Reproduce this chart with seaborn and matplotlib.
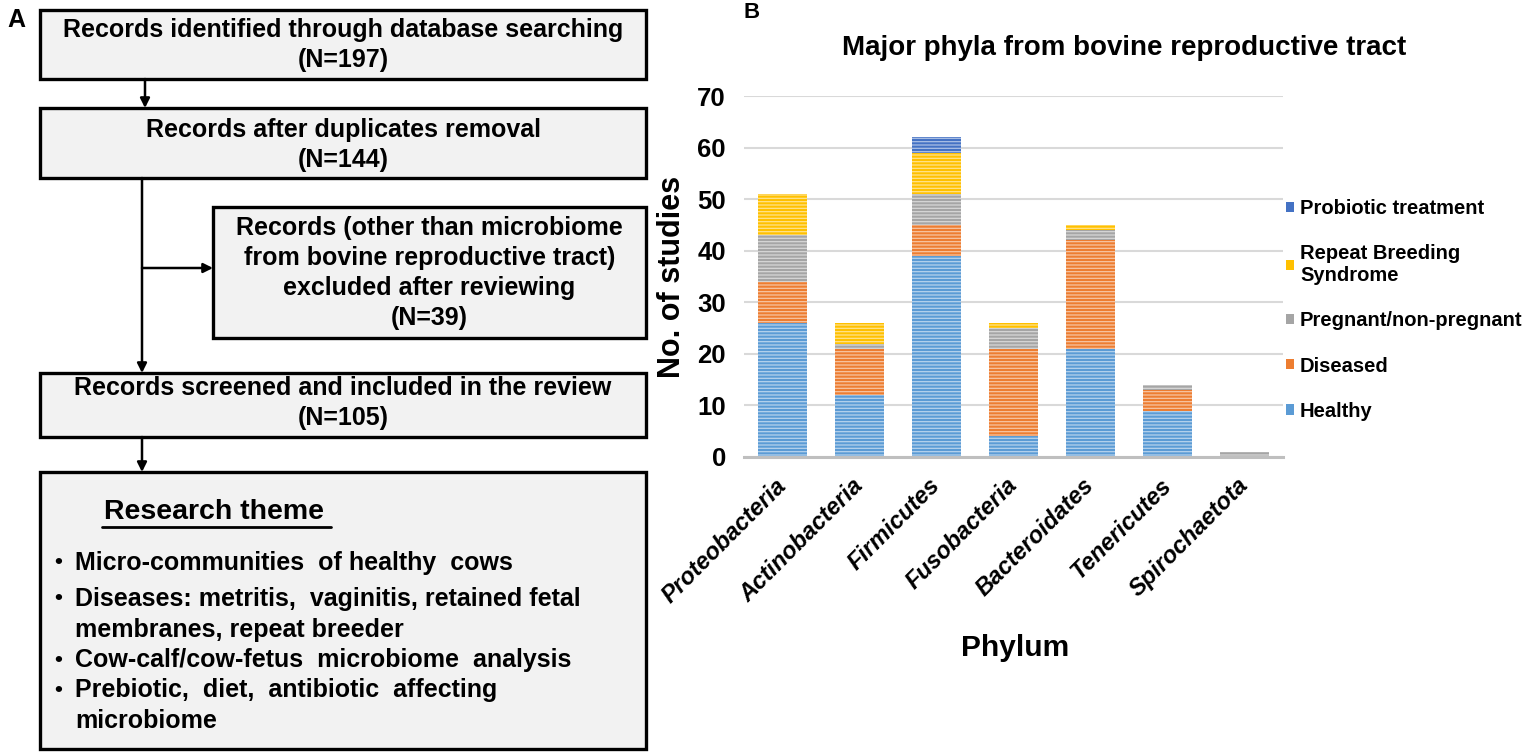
import matplotlib
matplotlib.use("Agg")
import matplotlib.pyplot as plt
from matplotlib.patches import Rectangle, Patch
import numpy as np
import pandas as pd
import seaborn as sns

# ---------------- data ----------------
phyla = ["Proteobacteria", "Actinobacteria", "Firmicutes", "Fusobacteria",
         "Bacteroidates", "Tenericutes", "Spirochaetota"]
healthy = [26, 12, 39, 4, 21, 9, 0]
diseased = [8, 9, 6, 17, 21, 4, 0]
pregnant = [9, 1, 6, 4, 2, 1, 1]
repeat_breeding = [8, 4, 8, 1, 1, 0, 0]
probiotic = [0, 0, 3, 0, 0, 0, 0]

groups = ["Healthy", "Diseased", "Pregnant/non-pregnant",
          "Repeat Breeding\nSyndrome", "Probiotic treatment"]
colors = ["#5B9BD5", "#ED7D31", "#A5A5A5", "#FFC000", "#4472C4"]
y_ticks = [0, 10, 20, 30, 40, 50, 60, 70]

flow_boxes = [
    ["Records identified through database searching", "(N=197)"],
    ["Records after duplicates removal", "(N=144)"],
    ["Records (other than microbiome", "from bovine reproductive tract)",
     "excluded after reviewing", "(N=39)"],
    ["Records screened and included in the review", "(N=105)"],
]
theme_title = "Research theme"
theme_items = [
    ["Micro-communities  of healthy  cows"],
    ["Diseases: metritis,  vaginitis, retained fetal", "membranes, repeat breeder"],
    ["Cow-calf/cow-fetus  microbiome  analysis"],
    ["Prebiotic,  diet,  antibiotic  affecting", "microbiome"],
]

# ---------------- figure ----------------
sns.set_theme(style="white")
plt.rcParams["font.family"] = ["Liberation Sans", "DejaVu Sans"]
plt.rcParams["text.color"] = "black"
plt.rcParams["axes.labelcolor"] = "black"
plt.rcParams["xtick.color"] = "black"
plt.rcParams["ytick.color"] = "black"
plt.rcParams["hatch.linewidth"] = 0.9

W, H = 1535, 756
fig = plt.figure(figsize=(W / 100, H / 100), dpi=100)
fig.patch.set_facecolor("white")

# ---------- panel A: flowchart (pixel coordinates) ----------
axA = fig.add_axes([0, 0, 1, 1])
axA.set_xlim(0, W)
axA.set_ylim(H, 0)
axA.axis("off")

box_geo = [(40, 10, 646, 79), (40, 108, 646, 178), (213, 207, 646, 338),
           (40, 373, 646, 437), (40, 472, 646, 749)]
for (x0, y0, x1, y1) in box_geo:
    axA.add_patch(Rectangle((x0, y0), x1 - x0, y1 - y0, facecolor="#F2F2F2",
                            edgecolor="black", lw=2.4, zorder=2))

line_y = [[30, 60], [130, 160], [228, 258, 288, 318], [388, 418]]
for bi, lines in enumerate(flow_boxes):
    x0, y0, x1, y1 = box_geo[bi]
    cx = (x0 + x1) / 2
    for txt, yy in zip(lines, line_y[bi]):
        axA.text(cx, yy, txt, ha="center", va="center", fontsize=18,
                 fontweight="bold", zorder=3)

# research theme box
axA.text(104, 512, theme_title, ha="left", va="center", fontsize=20.5,
         fontweight="bold", zorder=3)
axA.plot([102, 331], [527, 527], color="black", lw=2, zorder=3)
item_y = [[563], [599, 630], [660], [690, 721]]
for lines, ys in zip(theme_items, item_y):
    axA.text(58, ys[0], "•", ha="center", va="center", fontsize=16,
             fontweight="bold", zorder=3)
    for txt, yy in zip(lines, ys):
        axA.text(75, yy, txt, ha="left", va="center", fontsize=18,
                 fontweight="bold", zorder=3)

arrow_kw = dict(arrowstyle="-|>", color="black", lw=1.8, mutation_scale=14,
                shrinkA=0, shrinkB=0)
axA.annotate("", xy=(145, 108), xytext=(145, 79), arrowprops=arrow_kw)
axA.annotate("", xy=(142, 373), xytext=(142, 178), arrowprops=arrow_kw)
axA.annotate("", xy=(213, 268), xytext=(142, 268), arrowprops=arrow_kw)
axA.annotate("", xy=(142, 472), xytext=(142, 437), arrowprops=arrow_kw)

axA.text(16, 20, "A", ha="center", va="center", fontsize=18, fontweight="heavy")
fig.text(752 / W, 1 - 13 / H, "B", ha="center", va="center", fontsize=16,
         fontweight="heavy")

# ---------- panel B: stacked bars ----------
ax = fig.add_axes([744 / W, 1 - 457 / H, 539 / W, 361 / H])
layers = [healthy, diseased, pregnant, repeat_breeding, probiotic]
cum = np.cumsum(np.array(layers, dtype=float), axis=0)
df = pd.DataFrame({"phylum": phyla})
for i in range(len(layers) - 1, -1, -1):
    df["v"] = cum[i]
    sns.barplot(data=df, x="phylum", y="v", order=phyla, color=colors[i],
                saturation=1, width=0.64, errorbar=None, ax=ax,
                hatch="-----", edgecolor=(1, 1, 1, 0.55), linewidth=0,
                zorder=2)

ax.set_ylim(0, 70)
ax.set_yticks(y_ticks)
ax.yaxis.grid(True, color="#D9D9D9", lw=1.5, zorder=0)
ax.xaxis.grid(False)
ax.set_axisbelow(True)
for s in ["top", "right", "left"]:
    ax.spines[s].set_visible(False)
ax.spines["bottom"].set_color("#BFBFBF")
ax.spines["bottom"].set_linewidth(2.2)
ax.spines["bottom"].set_zorder(3)
ax.tick_params(axis="both", length=0)
ax.tick_params(axis="y", pad=13, labelsize=18.5)
for t in ax.get_yticklabels():
    t.set_fontweight("bold")
ax.tick_params(axis="x", pad=18, labelsize=17)
ax.set_xticks(range(len(phyla)))
ax.set_xticklabels(phyla, rotation=45, ha="right", va="center",
                   rotation_mode="anchor", fontstyle="italic",
                   fontweight="bold")

ax.set_ylabel("No. of studies", fontsize=22, fontweight="bold")
ax.yaxis.set_label_coords(-0.133, 0.5)
ax.yaxis.label.set_va("center")
ax.set_xlabel("Phylum", fontsize=21.5, fontweight="bold")
ax.xaxis.set_label_coords(0.503, -0.53)
ax.xaxis.label.set_va("center")

fig.text(1124 / W, 1 - 48 / H, "Major phyla from bovine reproductive tract",
         ha="center", va="center", fontsize=20, fontweight="bold")

handles = [Patch(facecolor=colors[i], edgecolor="none") for i in range(4, -1, -1)]
labels = [groups[i] for i in range(4, -1, -1)]
leg = ax.legend(handles, labels, loc="upper left",
                bbox_to_anchor=(1286 / W, 1 - 199 / H),
                bbox_transform=fig.transFigure, frameon=False,
                prop={"size": 14.5, "weight": "bold"},
                handlelength=0.4, handleheight=0.4, handletextpad=0.3,
                labelspacing=1.3, borderpad=0, borderaxespad=0)

fig.savefig("out.png", dpi=100, facecolor="white")
